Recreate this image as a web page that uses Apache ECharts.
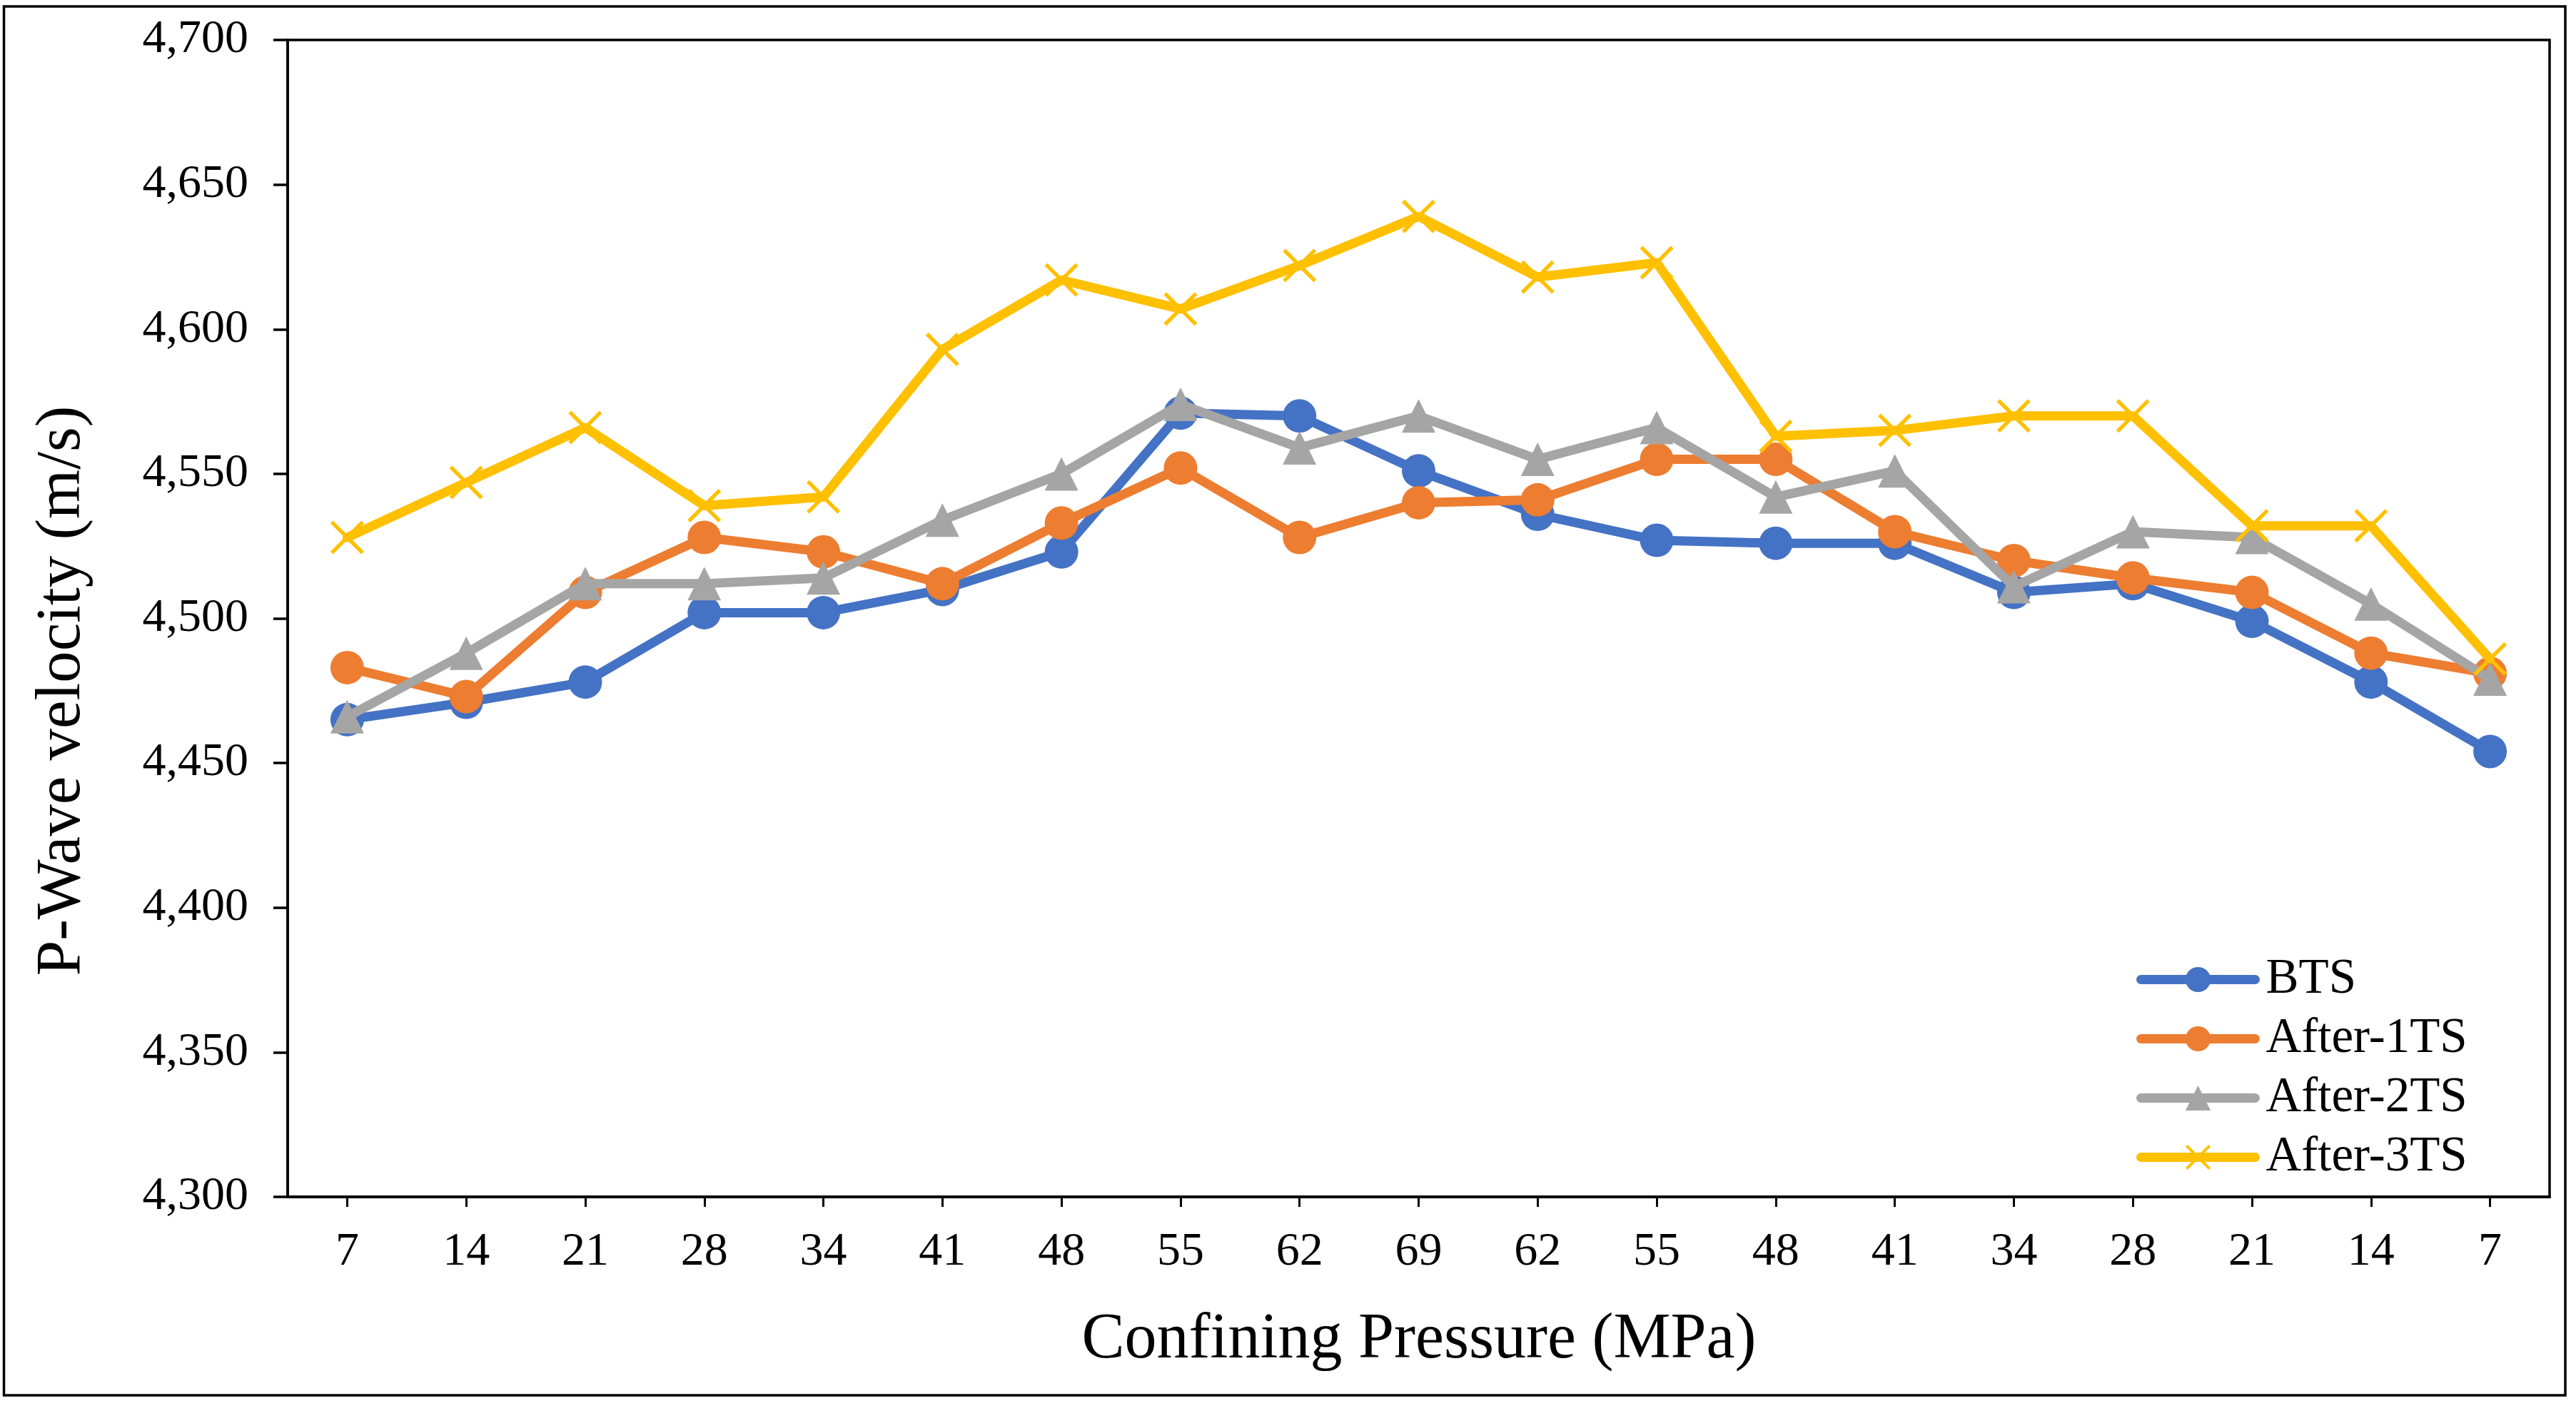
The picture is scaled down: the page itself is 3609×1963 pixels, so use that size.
<!DOCTYPE html>
<html>
<head>
<meta charset="utf-8">
<script src="https://cdn.jsdelivr.net/npm/echarts@6/dist/echarts.min.js"></script>
<style>
html,body{margin:0;padding:0;background:#fff;}
#chart{width:3609px;height:1963px;}
</style>
</head>
<body>
<div id="chart"></div>
<script>
// Confining pressure steps (loading then unloading), MPa
var categories = ['7','14','21','28','34','41','48','55','62','69','62','55','48','41','34','28','21','14','7'];
var seriesNames = ['BTS','After-1TS','After-2TS','After-3TS'];
var bts    = [4465,4471,4478,4502,4502,4510,4523,4571,4570,4551,4536,4527,4526,4526,4509,4512,4499,4478,4454];
var after1 = [4483,4473,4509,4528,4523,4512,4533,4552,4528,4540,4541,4555,4555,4530,4520,4514,4509,4488,4481];
var after2 = [4466,4488,4512,4512,4514,4534,4550,4574,4559,4570,4555,4566,4542,4551,4511,4530,4528,4505,4479];
var after3 = [4528,4547,4566,4539,4542,4593,4617,4607,4622,4639,4618,4623,4563,4565,4570,4570,4532,4532,4486];
var yMin = 4300, yMax = 4700, yStep = 50;
var xTitle = 'Confining Pressure (MPa)';
var yTitle = 'P-Wave velocity (m/s)';

var FONT = '"Liberation Serif", "Times New Roman", serif';
var colors = ['#4472C4','#ED7D31','#A5A5A5','#FFC000'];
var xPath = 'path://M0,8 L8,0 L50,42 L92,0 L100,8 L58,50 L100,92 L92,100 L50,58 L8,100 L0,92 L42,50 Z';
var symbols = ['circle','circle','triangle', xPath];
var allData = [bts, after1, after2, after3];

function fmt(v){ return String(v).replace(/\B(?=(\d{3})+(?!\d))/g, ','); }

var series = allData.map(function(d, i){
  return {
    name: seriesNames[i],
    type: 'line',
    data: d,
    symbol: symbols[i],
    symbolSize: 47,
    showSymbol: true,
    lineStyle: { color: colors[i], width: 13, cap: 'round', join: 'round' },
    itemStyle: { color: colors[i] },
    emphasis: { disabled: true },
    z: 2 + i
  };
});

var chart = echarts.init(document.getElementById('chart'), null, {renderer:'canvas'});
chart.setOption({
  animation: false,
  backgroundColor: '#fff',
  grid: { left: 403, right: 37, top: 56, bottom: 286, show: true, borderColor: '#000', borderWidth: 3.5, backgroundColor: 'transparent' },
  xAxis: {
    type: 'category',
    data: categories,
    boundaryGap: true,
    axisLine: { show: true, lineStyle: { color: '#000', width: 4 } },
    axisTick: { show: true, alignWithLabel: true, length: 14, lineStyle: { color: '#000', width: 3 } },
    axisLabel: { color: '#000', fontFamily: FONT, fontSize: 66, margin: 45, interval: 0 },
    splitLine: { show: false }
  },
  yAxis: {
    type: 'value',
    min: yMin, max: yMax, interval: yStep,
    axisLine: { show: true, lineStyle: { color: '#000', width: 3.5 } },
    axisTick: { show: true, length: 20, lineStyle: { color: '#000', width: 3.5 } },
    axisLabel: { color: '#000', fontFamily: FONT, fontSize: 66, margin: 55, formatter: fmt },
    splitLine: { show: false }
  },
  legend: {
    orient: 'vertical',
    left: 2988, top: 1333,
    itemWidth: 160, itemHeight: 44, itemGap: 14,
    lineStyle: { width: 13, cap: 'round' },
    textStyle: { color: '#000', fontFamily: FONT, fontSize: 69, padding: [0,0,0,10] },
    data: seriesNames
  },
  graphic: [
    { type: 'rect', shape: { x: 5.5, y: 9, width: 3588.5, height: 1946 }, style: { fill: 'none', stroke: '#000', lineWidth: 3.5 }, silent: true },
    { type: 'text', x: 1988, y: 1878, style: { text: xTitle, font: '90px ' + FONT, fill: '#000', textAlign: 'center', textVerticalAlign: 'middle' } },
    { type: 'text', x: 88, y: 968, rotation: Math.PI / 2, style: { text: yTitle, font: '89px ' + FONT, fill: '#000', textAlign: 'center', textVerticalAlign: 'middle' } }
  ],
  series: series
});
</script>
</body>
</html>
